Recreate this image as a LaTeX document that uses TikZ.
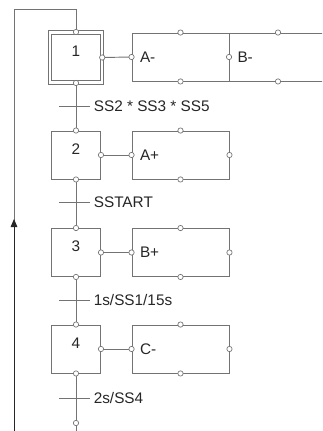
\documentclass[tikz,border=0pt]{standalone}
\usepackage{fontspec}
\setmainfont{Liberation Sans}
\usetikzlibrary{arrows.meta}
\begin{document}
\begin{tikzpicture}[x=0.75pt,y=-0.75pt,color=black!55,line width=0.7pt,
  font=\fontsize{11.5}{13}\selectfont,
  stepbox/.style={draw,rectangle,inner sep=0pt,minimum width=36.75pt,minimum height=36pt,text depth=9pt,text=black!85},
  initstep/.style={stepbox,double,double distance=1.8pt,minimum width=38.6pt,minimum height=37.5pt},
  actbox/.style={draw,rectangle,inner xsep=6pt,inner ysep=0pt,text width=60.75pt,align=left,minimum height=36pt,text=black!85},
  cond/.style={anchor=west,inner xsep=2.5pt,inner ysep=0pt,text=black!85},
  port/.style={draw,fill=white,line width=0.5pt}]
\useasboundingbox (0,0) rectangle (322,431);
\clip (0,0) rectangle (322,431);

% steps
\node[initstep] (s1) at (76,57.5) {1};
\node[stepbox] (s2) at (76,155) {2};
\node[stepbox] (s3) at (76,252.5) {3};
\node[stepbox] (s4) at (76,349) {4};

% actions
\node[actbox] (a1) at (180.5,57) {A-};
\node[actbox] (b1) at (278,57) {B-};
\node[actbox] (a2) at (180.5,155) {A+};
\node[actbox] (b3) at (180.5,252.5) {B+};
\node[actbox] (c4) at (180.5,349) {C-};

\draw (s1.east) -- (a1.west);
\draw (s2.east) -- (a2.west);
\draw (s3.east) -- (b3.west);
\draw (s4.east) -- (c4.west);

% transitions
\coordinate (t1) at (76,106);
\coordinate (t2) at (76,202);
\coordinate (t3) at (76,300);
\coordinate (t4) at (76,398);
\coordinate (tend) at (76,423);
\draw (s1.south) -- (s2.north);
\draw (s2.south) -- (s3.north);
\draw (s3.south) -- (s4.north);
\draw (s4.south) -- (76,431);
\draw (t1) +(-17,0) -- +(14,0) node[cond] (tr1) {SS2 * SS3 * SS5};
\draw (t2) +(-17,0) -- +(14,0) node[cond] (tr2) {SSTART};
\draw (t3) +(-17,0) -- +(14,0) node[cond] (tr3) {1s/SS1/15s};
\draw (t4) +(-17,0) -- +(14,0) node[cond] (tr4) {2s/SS4};

% loop back to step 1
\coordinate (ret) at (14,431);
\draw (ret) -- (14,9) -| (s1.north);
\draw[-{Triangle[length=6pt,width=5pt]},color=black!85] (ret) -- (14,219);

% ports
\foreach \n in {s1,s2,s3,s4}
  \draw[port] (\n.north) circle (2pt) (\n.south) circle (2pt) (\n.east) circle (2pt);
\foreach \n in {a1,b1,a2,b3,c4}
  \draw[port] (\n.north) circle (2pt) (\n.south) circle (2pt) (\n.west) circle (2pt);
\foreach \n in {a2,b3,c4}
  \draw[port] (\n.east) circle (2pt);
\draw[port] (tend) circle (2pt);
\end{tikzpicture}
\end{document}
